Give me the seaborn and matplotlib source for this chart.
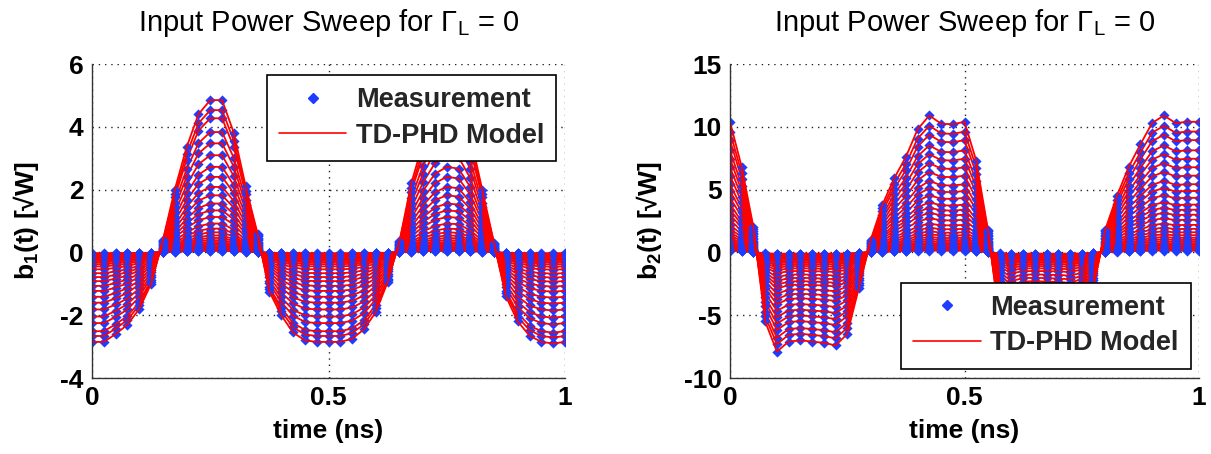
import numpy as np
import pandas as pd
import matplotlib
matplotlib.use("Agg")
import matplotlib.pyplot as plt
from matplotlib.lines import Line2D
import seaborn as sns

# ---- data ----
time_ns = [0.000, 0.025, 0.050, 0.075, 0.100, 0.125, 0.150, 0.175, 0.200, 0.225,
           0.250, 0.275, 0.300, 0.325, 0.350, 0.375, 0.400, 0.425, 0.450, 0.475,
           0.500, 0.525, 0.550, 0.575, 0.600, 0.625, 0.650, 0.675, 0.700, 0.725,
           0.750, 0.775, 0.800, 0.825, 0.850, 0.875, 0.900, 0.925, 0.950, 0.975,
           1.000]

# highest-power waveform of b1 (sqrt W)
b1_top = [-2.85, -2.85, -2.60, -2.30, -1.80, -1.00, 0.40, 2.00, 3.35, 4.40,
          4.85, 4.85, 3.80, 2.10, 0.60, -1.25, -2.00, -2.55, -2.80, -2.85,
          -2.85, -2.85, -2.75, -2.45, -1.90, -0.95, 0.35, 2.20, 3.50, 4.45,
          4.85, 4.75, 3.70, 2.00, 0.30, -1.40, -2.20, -2.65, -2.85, -2.90,
          -2.85]

# highest-power waveform of b2 (sqrt W)
b2_top = [10.40, 6.80, 2.00, -5.50, -7.90, -7.10, -7.00, -7.10, -7.20, -7.40,
          -6.50, -2.80, 1.00, 3.80, 5.90, 7.60, 9.80, 10.90, 10.25, 10.20,
          10.40, 7.30, 1.80, -5.50, -7.90, -7.10, -7.00, -7.10, -7.20, -7.40,
          -6.50, -2.80, 1.80, 4.50, 6.80, 8.60, 10.30, 10.90, 10.30, 10.40,
          10.40]

# peak value of each sweep step (b1 at t~0.26 ns, b2 at t~0.45 ns)
b1_levels = [4.86, 4.54, 4.28, 3.84, 3.48, 3.10, 2.73, 2.41, 2.09, 1.82,
             1.56, 1.34, 1.13, 0.92, 0.76, 0.64, 0.54, 0.46, 0.39, 0.33,
             0.28, 0.24, 0.20, 0.17, 0.14, 0.12, 0.10, 0.085, 0.07, 0.06,
             0.05]
b2_levels = [10.25, 9.48, 8.81, 8.01, 7.35, 6.68, 6.02, 5.35, 4.82, 4.28,
             3.75, 3.35, 2.96, 2.56, 2.16, 1.85, 1.58, 1.35, 1.15, 0.98,
             0.83, 0.70, 0.60, 0.50, 0.42, 0.35, 0.30, 0.25, 0.20, 0.17,
             0.14]

titles = ["Input Power Sweep for $\\Gamma_\\mathrm{L}$ = 0"] * 2
ylabels = ["b$_\\mathbf{1}$(t) [\u221aW]", "b$_\\mathbf{2}$(t) [\u221aW]"]
xlabel = "time (ns)"
legend_labels = ["Measurement", "TD-PHD Model"]
yticks_list = [[-4, -2, 0, 2, 4, 6], [-10, -5, 0, 5, 10, 15]]
xticks = [0, 0.5, 1]
xticklabels = ["0", "0.5", "1"]

# ---- style ----
sns.set_theme(style="white")
plt.rcParams["font.family"] = ["Liberation Sans", "DejaVu Sans"]
plt.rcParams["mathtext.fontset"] = "custom"
plt.rcParams["mathtext.rm"] = "Liberation Sans"
plt.rcParams["mathtext.it"] = "Liberation Sans:italic"
plt.rcParams["mathtext.bf"] = "Liberation Sans:bold"

MEAS_C = "#1e3cff"
MODEL_C = "#ff0000"
FS = 19


def build(top, levels):
    frames = []
    for i, lv in enumerate(levels):
        s = lv / levels[0]
        frames.append(pd.DataFrame({"level": i, "t": time_ns,
                                    "b": [v * s for v in top]}))
    return pd.concat(frames, ignore_index=True)


fig = plt.figure(figsize=(12.11, 4.54), dpi=100)
ax_pos = [[92 / 1211, 76 / 454, 473 / 1211, 314 / 454],
          [730 / 1211, 76 / 454, 469 / 1211, 314 / 454]]
tops = [b1_top, b2_top]
levels_all = [b1_levels, b2_levels]
legend_cfg = [dict(loc="upper right", bbox_to_anchor=(0.982, 0.965)),
              dict(loc="lower right", bbox_to_anchor=(0.982, 0.03))]

for k in range(2):
    ax = fig.add_axes(ax_pos[k])
    df = build(tops[k], levels_all[k])
    n = len(levels_all[k])
    z = 2
    for i in reversed(range(n)):
        sub = df[df["level"] == i]
        sns.scatterplot(data=sub, x="t", y="b", ax=ax, color=MEAS_C, marker="D",
                        s=27, linewidth=0, legend=False, zorder=z)
        sns.lineplot(data=sub, x="t", y="b", ax=ax, color=MODEL_C, lw=1.3,
                     estimator=None, sort=False, legend=False, zorder=z + 1)
        z += 2
    ax.set_xlim(0, 1)
    ax.set_ylim(yticks_list[k][0], yticks_list[k][-1])
    ax.set_xticks(xticks)
    ax.set_xticklabels(xticklabels)
    ax.set_yticks(yticks_list[k])
    ax.set_yticklabels([str(v) for v in yticks_list[k]])
    ax.grid(True, color="#222222", lw=1.0, ls=(0, (1, 3.5)))
    for g in ax.get_xgridlines() + ax.get_ygridlines():
        g.set_zorder(1)
    for s in ["top", "right"]:
        ax.spines[s].set_visible(False)
    for s in ["left", "bottom"]:
        ax.spines[s].set_color("#333333")
        ax.spines[s].set_linewidth(1.0)
        ax.spines[s].set_zorder(200)
    ax.tick_params(direction="in", length=4, width=1, color="#333333",
                   labelsize=FS, labelcolor="black", pad=6)
    for lab in ax.get_xticklabels() + ax.get_yticklabels():
        lab.set_fontweight("bold")
    ax.set_title(titles[k], fontsize=21, pad=24, color="black")
    ax.set_xlabel(xlabel, fontsize=FS, color="black", labelpad=6,
                  fontweight="bold")
    ax.set_ylabel(ylabels[k], fontsize=FS, color="black", labelpad=14,
                  fontweight="bold")
    handles = [Line2D([], [], marker="D", color=MEAS_C, ls="none", ms=5.5),
               Line2D([], [], color=MODEL_C, lw=1.2)]
    leg = ax.legend(handles, legend_labels, frameon=True,
                    prop={"size": 19.5, "weight": "bold"},
                    fancybox=False, framealpha=1, edgecolor="black",
                    handlelength=2.5, borderpad=0.45, labelspacing=0.35,
                    handletextpad=0.35, borderaxespad=0, **legend_cfg[k])
    leg.get_frame().set_linewidth(1.2)
    leg.set_zorder(300)

fig.savefig("out.png", dpi=100)
